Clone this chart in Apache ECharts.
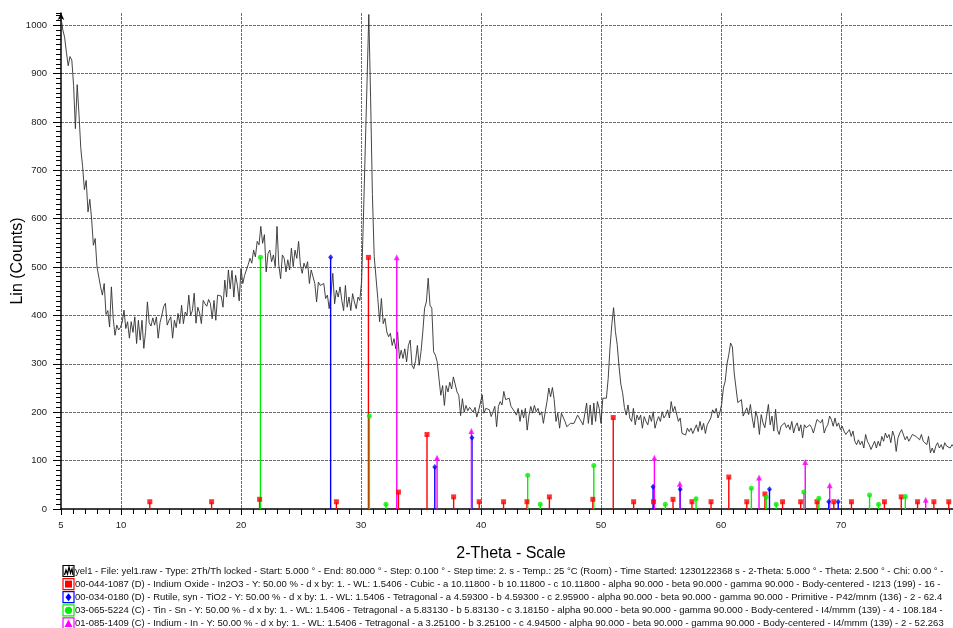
<!DOCTYPE html>
<html>
<head>
<meta charset="utf-8">
<script src="https://cdn.jsdelivr.net/npm/echarts@6/dist/echarts.min.js"></script>
<style>
html,body{margin:0;padding:0;background:#fff;}
#chart{width:953px;height:628px;}
</style>
</head>
<body>
<div id="chart"></div>
<script>
// ---- scan (0.15 deg sampling) ----
const scanStart = 5;
const scanStep = 0.15;
const counts = [
  1016, 990, 975, 944, 916, 935, 928, 875, 786, 877, 815, 745, 708, 660, 679, 614, 640, 600, 545, 559,
  500, 502, 459, 442, 466, 402, 410, 376, 459, 394, 359, 380, 370, 375, 386, 411, 373, 387, 353, 387,
  365, 397, 342, 390, 349, 390, 332, 367, 428, 385, 378, 395, 380, 397, 353, 385, 400, 418, 425, 380,
  390, 397, 353, 390, 375, 404, 383, 421, 383, 407, 400, 442, 400, 410, 446, 384, 417, 405, 383, 431,
  424, 419, 433, 425, 393, 431, 390, 442, 438, 440, 417, 473, 438, 494, 455, 493, 438, 483, 462, 430,
  497, 466, 483, 494, 505, 518, 508, 535, 521, 553, 546, 584, 549, 567, 490, 528, 535, 511, 525, 501,
  584, 504, 476, 525, 518, 490, 515, 494, 539, 501, 535, 518, 553, 504, 487, 508, 497, 511, 466, 494,
  480, 466, 428, 469, 462, 459, 466, 435, 442, 414, 445, 487, 424, 452, 438, 459, 431, 410, 462, 417,
  438, 410, 445, 428, 414, 438, 431, 470, 600, 740, 880, 1022, 850, 650, 522, 518, 435, 387, 435, 383,
  394, 366, 356, 363, 338, 352, 331, 366, 311, 328, 311, 331, 304, 338, 349, 297, 290, 307, 338, 297,
  325, 366, 415, 428, 477, 421, 415, 325, 318, 304, 269, 235, 255, 214, 255, 242, 262, 248, 273, 269,
  242, 235, 193, 228, 200, 214, 203, 210, 207, 200, 210, 190, 203, 200, 236, 198, 208, 212, 205, 191,
  201, 212, 170, 212, 222, 215, 243, 226, 222, 229, 212, 208, 201, 194, 208, 181, 205, 188, 208, 163,
  194, 212, 198, 214, 201, 208, 194, 201, 177, 201, 222, 250, 232, 251, 226, 181, 198, 167, 198, 194,
  181, 170, 174, 177, 174, 177, 181, 194, 191, 181, 174, 177, 219, 177, 215, 174, 219, 181, 222, 208,
  177, 229, 232, 229, 270, 333, 381, 416, 367, 340, 295, 258, 240, 210, 194, 215, 188, 181, 208, 174,
  194, 184, 194, 167, 191, 181, 174, 194, 181, 201, 167, 181, 191, 181, 201, 188, 194, 205, 188, 222,
  201, 212, 208, 181, 188, 156, 160, 153, 167, 160, 167, 156, 153, 174, 160, 181, 163, 177, 156, 174,
  174, 188, 205, 198, 208, 188, 199, 216, 250, 264, 300, 319, 343, 335, 281, 250, 220, 216, 226, 192,
  192, 209, 195, 216, 188, 168, 202, 188, 154, 195, 178, 168, 192, 216, 174, 192, 161, 206, 164, 154,
  171, 168, 178, 168, 174, 164, 181, 157, 171, 178, 161, 174, 147, 174, 168, 171, 174, 168, 157, 171,
  185, 188, 178, 185, 157, 168, 174, 192, 185, 171, 188, 171, 178, 164, 171, 161, 154, 157, 164, 150,
  161, 140, 133, 143, 133, 140, 126, 154, 140, 133, 123, 119, 140, 126, 140, 130, 150, 140, 157, 147,
  154, 137, 161, 150, 119, 147, 157, 164, 168, 143, 150, 140, 147, 154, 157, 150, 154, 143, 154, 140,
  140, 133, 150, 116, 126, 116, 130, 137, 126, 133, 123, 137, 130, 133, 126, 133, 128
];

// ---- reference patterns (stick positions 2-theta, heights in counts) ----
const in2o3X = [12.4, 17.55, 21.55, 27.95, 30.62, 33.12, 35.5, 37.72, 39.85, 41.88, 43.83, 45.7, 49.32, 51.02, 52.72, 54.38, 56.0, 57.58, 59.17, 60.65, 62.15, 63.66, 65.13, 66.64, 68.0, 69.4, 70.87, 73.62, 75.02, 76.38, 77.74, 78.98];
const in2o3Y = [15, 15, 20, 15, 520, 35, 154, 25, 15, 15, 15, 25, 20, 189, 15, 15, 20, 15, 15, 66, 15, 31, 15, 15, 15, 15, 15, 15, 25, 15, 15, 15];
const rutileX = [27.47, 36.15, 39.25, 54.34, 56.6, 64.04, 68.98, 69.77];
const rutileY = [520, 87, 147, 46, 41, 41, 15, 15];
const tinX = [21.62, 30.7, 32.08, 43.89, 44.94, 49.4, 55.36, 57.92, 62.53, 63.77, 64.6, 66.9, 68.15, 72.38, 73.13, 75.36];
const tinY = [520, 192, 10, 70, 10, 90, 10, 21, 43, 25, 10, 35, 22, 29, 10, 26];
const indiumX = [32.98, 36.34, 39.2, 54.45, 56.57, 63.17, 67.02, 69.06, 77.06];
const indiumY = [520, 106, 161, 106, 52, 65, 97, 49, 19];

// ---- axis tick labels ----
const xLabelValues = [5, 10, 20, 30, 40, 50, 60, 70];
const yLabelValues = [0, 100, 200, 300, 400, 500, 600, 700, 800, 900, 1000];

// ---- legend texts ----
const legendTexts = [
  'yel1 - File: yel1.raw - Type: 2Th/Th locked - Start: 5.000 \u00b0 - End: 80.000 \u00b0 - Step: 0.100 \u00b0 - Step time: 2. s - Temp.: 25 \u00b0C (Room) - Time Started: 1230122368 s - 2-Theta: 5.000 \u00b0 - Theta: 2.500 \u00b0 - Chi: 0.00 \u00b0 -',
  '00-044-1087 (D) - Indium Oxide - In2O3 - Y: 50.00 % - d x by: 1. - WL: 1.5406 - Cubic - a 10.11800 - b 10.11800 - c 10.11800 - alpha 90.000 - beta 90.000 - gamma 90.000 - Body-centered - I213 (199) - 16 -',
  '00-034-0180 (D) - Rutile, syn - TiO2 - Y: 50.00 % - d x by: 1. - WL: 1.5406 - Tetragonal - a 4.59300 - b 4.59300 - c 2.95900 - alpha 90.000 - beta 90.000 - gamma 90.000 - Primitive - P42/mnm (136) - 2 - 62.4',
  '03-065-5224 (C) - Tin - Sn - Y: 50.00 % - d x by: 1. - WL: 1.5406 - Tetragonal - a 5.83130 - b 5.83130 - c 3.18150 - alpha 90.000 - beta 90.000 - gamma 90.000 - Body-centered - I4/mmm (139) - 4 - 108.184 -',
  '01-085-1409 (C) - Indium - In - Y: 50.00 % - d x by: 1. - WL: 1.5406 - Tetragonal - a 3.25100 - b 3.25100 - c 4.94500 - alpha 90.000 - beta 90.000 - gamma 90.000 - Body-centered - I4/mmm (139) - 2 - 52.263'
];

const C_RED = '#ff0000', C_BLUE = '#0000ff', C_GREEN = '#00f000', C_MAG = '#ff00ff';
const FONT = '"Liberation Sans", Arial, sans-serif';

const scanData = counts.map((c, i) => [+(scanStart + i * scanStep).toFixed(2), c]);

function sticks(xs, ys, color, symbol, size, name) {
  const data = xs.map((x, i) => [x, ys[i]]);
  return [
    {
      name: name, type: 'custom', z: 3, clip: true, data: data,
      renderItem: function (params, api) {
        const top = api.coord([api.value(0), api.value(1)]);
        const base = api.coord([api.value(0), 0]);
        return { type: 'line', shape: { x1: top[0], y1: top[1], x2: base[0], y2: base[1] },
                 style: { stroke: color, lineWidth: 1.4 } };
      }
    },
    {
      name: name + ' mark', type: 'scatter', z: 4, data: data, symbol: symbol, symbolSize: size,
      itemStyle: { color: color }, silent: true
    }
  ];
}

// legend graphics
const legendGraphics = [];
const rowY0 = 571, rowStep = 13.1;
const icons = [
  { color: '#000000', inner: 'scan' },
  { color: C_RED, inner: 'square' },
  { color: C_BLUE, inner: 'diamond' },
  { color: C_GREEN, inner: 'circle' },
  { color: C_MAG, inner: 'triangle' }
];
icons.forEach((ic, i) => {
  const cy = rowY0 + i * rowStep;
  const x0 = 63, s = 11;
  legendGraphics.push({ type: 'rect', shape: { x: x0, y: cy - s / 2, width: s, height: s },
    style: { fill: '#fff', stroke: ic.color, lineWidth: 1.2 } });
  const cx = x0 + s / 2;
  if (ic.inner === 'scan') {
    legendGraphics.push({ type: 'polyline', shape: { points: [[x0 + 1.5, cy + 4], [x0 + 3, cy - 1], [x0 + 4.5, cy + 3], [x0 + 6, cy - 4], [x0 + 7.5, cy + 2], [x0 + 9, cy - 2], [x0 + 10, cy + 4]] },
      style: { stroke: '#000', lineWidth: 1.3, fill: null } });
  } else if (ic.inner === 'square') {
    legendGraphics.push({ type: 'rect', shape: { x: cx - 3.5, y: cy - 3.5, width: 7, height: 7 }, style: { fill: ic.color } });
  } else if (ic.inner === 'diamond') {
    legendGraphics.push({ type: 'polygon', shape: { points: [[cx, cy - 4], [cx + 3, cy], [cx, cy + 4], [cx - 3, cy]] }, style: { fill: ic.color } });
  } else if (ic.inner === 'circle') {
    legendGraphics.push({ type: 'circle', shape: { cx: cx, cy: cy, r: 3.6 }, style: { fill: ic.color } });
  } else {
    legendGraphics.push({ type: 'polygon', shape: { points: [[cx, cy - 4], [cx + 4, cy + 3.5], [cx - 4, cy + 3.5]] }, style: { fill: ic.color } });
  }
  legendGraphics.push({ type: 'text', x: 75, y: cy, style: { text: legendTexts[i], font: '9.5px ' + FONT, fill: '#111', verticalAlign: 'middle', align: 'left' } });
});

const chart = echarts.init(document.getElementById('chart'), null, { renderer: 'canvas' });
const gridLine = '#6c6c6c';
chart.setOption({
  animation: false,
  backgroundColor: '#ffffff',
  grid: { left: 61, right: -8, top: 13, bottom: 119, containLabel: false, outerBoundsMode: 'none' },
  xAxis: [
    {
      type: 'value', min: 5, max: 80, interval: 5, position: 'bottom',
      name: '2-Theta - Scale', nameLocation: 'middle', nameGap: 37,
      nameTextStyle: { fontSize: 16, color: '#000', fontFamily: FONT },
      axisLine: { show: true, onZero: false, lineStyle: { color: '#000', width: 1.5 } },
      axisTick: { show: true, length: 6, lineStyle: { color: '#000' } },
      axisLabel: { fontSize: 9.5, color: '#222', margin: 11, fontFamily: FONT,
        formatter: v => (xLabelValues.indexOf(v) >= 0 ? String(v) : '') },
      splitLine: { show: true, showMinLine: false, lineStyle: { color: [gridLine, 'rgba(0,0,0,0)'], width: 1, type: [3, 1] } }
    },
    {
      type: 'value', min: 5, max: 80, interval: 1, position: 'bottom',
      axisLine: { show: false }, axisLabel: { show: false }, splitLine: { show: false },
      axisTick: { show: true, length: 5, lineStyle: { color: '#000' } }
    }
  ],
  yAxis: [
    {
      type: 'value', min: 0, max: 1025, interval: 100, position: 'left',
      name: 'Lin (Counts)', nameLocation: 'middle', nameGap: 35, nameRotate: 90, nameMoveOverlap: false,
      nameTextStyle: { fontSize: 16, color: '#000', fontFamily: FONT },
      axisLine: { show: true, onZero: false, symbol: ['none', 'arrow'], symbolSize: [5, 7], lineStyle: { color: '#000', width: 1.5 } },
      axisTick: { show: true, length: 8, lineStyle: { color: '#000' } },
      axisLabel: { fontSize: 9.5, color: '#222', margin: 14, fontFamily: FONT, showMaxLabel: false,
        formatter: v => (yLabelValues.indexOf(v) >= 0 ? String(v) : '') },
      splitLine: { show: true, showMinLine: false, showMaxLine: false, lineStyle: { color: gridLine, width: 1, type: [3, 1] } }
    },
    {
      type: 'value', min: 0, max: 1025, interval: 10, position: 'left',
      axisLine: { show: false }, axisLabel: { show: false }, splitLine: { show: false },
      axisTick: { show: true, length: 5, lineStyle: { color: '#000' } }
    }
  ],
  series: [
    { name: 'yel1', type: 'line', data: scanData, showSymbol: false, z: 2, clip: true,
      lineStyle: { color: '#303030', width: 0.9 } },
    ...sticks(in2o3X, in2o3Y, C_RED, 'rect', 5, 'In2O3'),
    ...sticks(rutileX, rutileY, C_BLUE, 'diamond', [5, 6], 'TiO2'),
    ...sticks(tinX, tinY, C_GREEN, 'circle', 5, 'Sn'),
    ...sticks(indiumX, indiumY, C_MAG, 'triangle', 6, 'In')
  ],
  graphic: legendGraphics
});
</script>
</body>
</html>
